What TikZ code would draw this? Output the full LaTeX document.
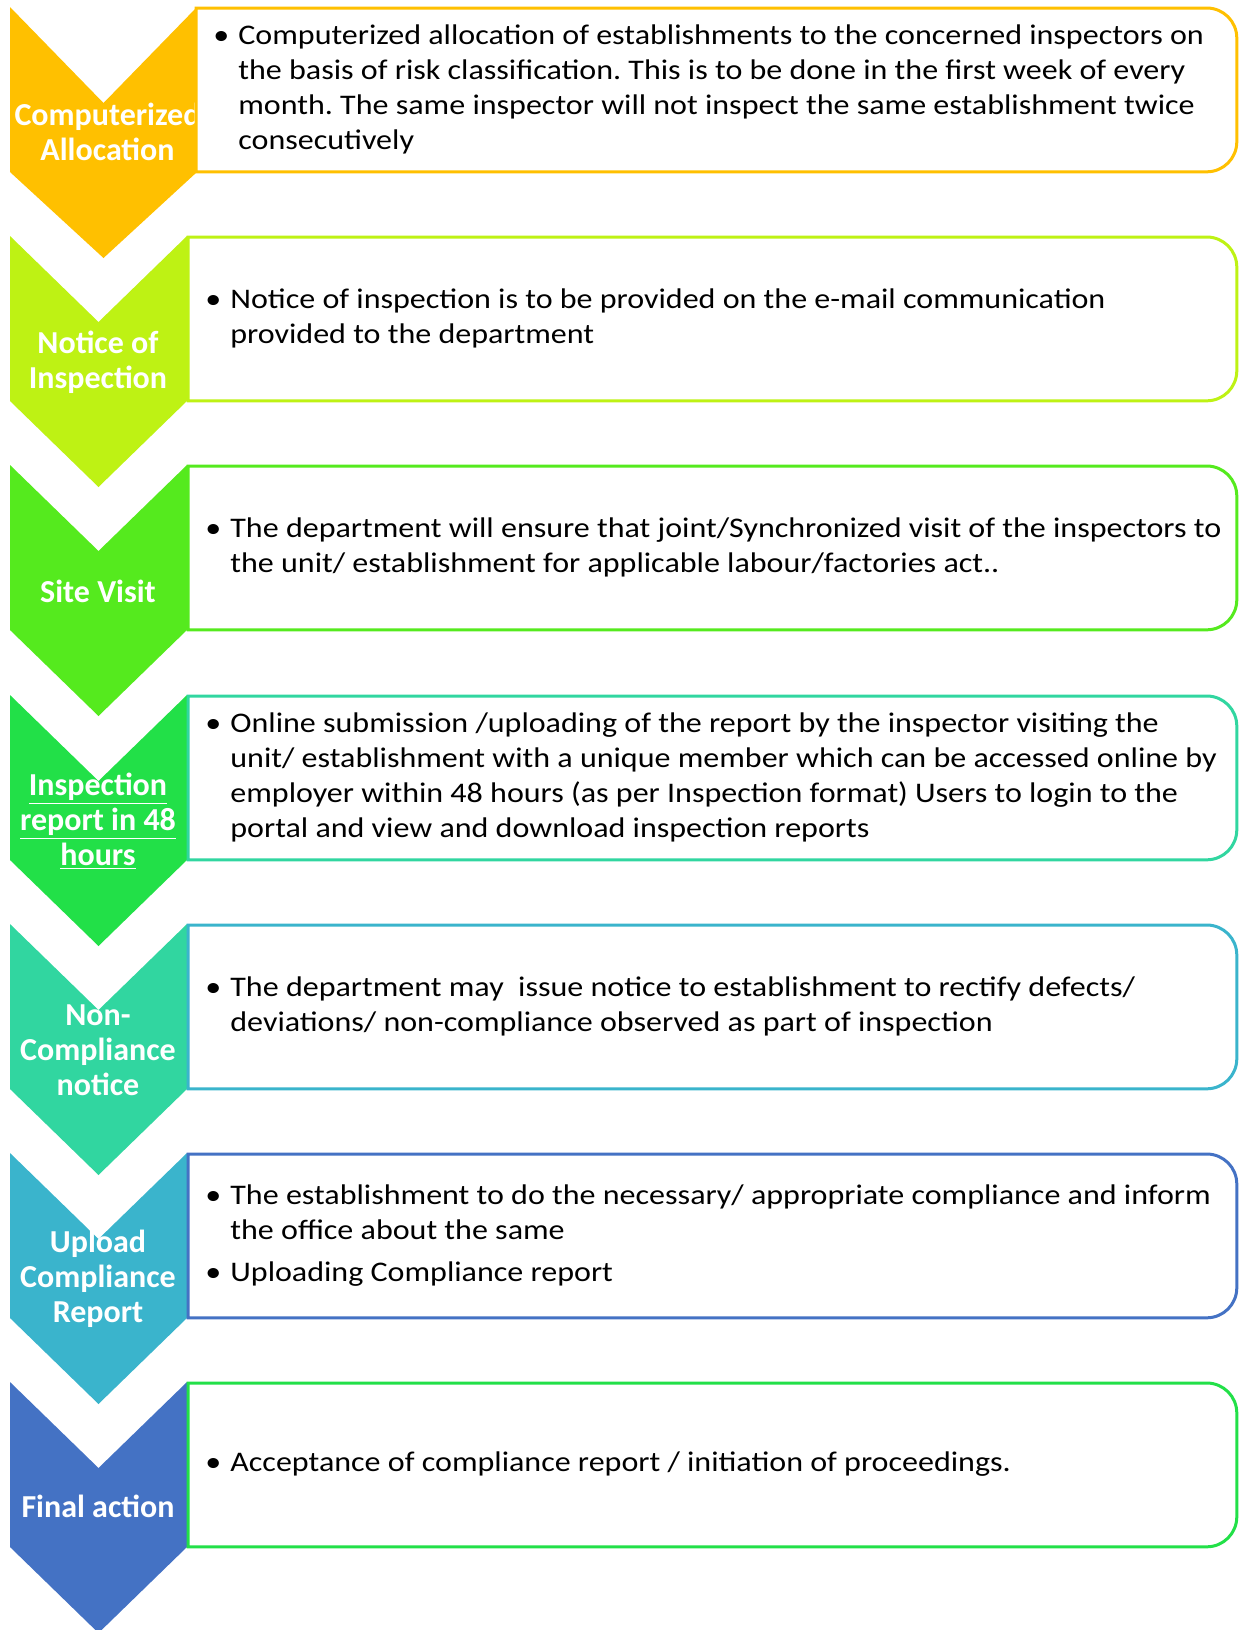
\documentclass[tikz,border=0pt]{standalone}
\usepackage{fontspec}
\setmainfont{Carlito}[FakeStretch=1.128]
\newfontfamily\labfont{Carlito}
\usetikzlibrary{positioning}
\frenchspacing

\definecolor{stepA}{HTML}{FFC000}
\definecolor{stepB}{HTML}{BEF214}
\definecolor{stepC}{HTML}{55EA1E}
\definecolor{stepD}{HTML}{22E048}
\definecolor{stepE}{HTML}{31D6A0}
\definecolor{stepF}{HTML}{3AB4CC}
\definecolor{stepG}{HTML}{4472C4}

% chevron: top, width, notch depth, colour
\newcommand{\chevshape}[4]{%
  \fill[#4] (10,#1) -- ++(#2/2,#3) -- (10+#2,#1) -- ++(0,165)
    -- ++(-#2/2,86) -- (10,#1+165) -- cycle;}
% outline of a box, square on the left, round on the right
\newcommand{\boxline}[2]{%
  \draw[line width=1.5pt, draw=#2, fill=white] (#1.south west) -- (#1.north west)
    -- ([xshift=-15pt]#1.north east) arc[start angle=90, end angle=0, radius=15pt]
    -- ([yshift=15pt]#1.south east) arc[start angle=0, end angle=-90, radius=15pt]
    -- cycle;}
\newcommand{\bul}[1]{\makebox[12.5pt][l]{\textbullet}\begin{tabular}[t]{@{}l@{}}#1\end{tabular}}

\begin{document}
\begin{tikzpicture}[
  x=0.5pt, y=-0.5pt,
  box/.style={
    rectangle,
    anchor=north west,
    inner sep=0pt,
    minimum width=524pt,
    minimum height=81.5pt
  },
  lab/.style={
    text=white,
    align=center,
    inner sep=0pt,
    font=\labfont\bfseries\fontsize{16}{17.5}\selectfont
  },
  txt/.style={
    align=left,
    inner sep=0pt,
    font=\fontsize{14.2}{17.6}\selectfont
  }
]
\useasboundingbox (0,0) rectangle (1239,1630);

% Chevrons with their labels
\chevshape{7}{187}{96}{stepA}
\node[lab] (alloc) at (107.5,132) {Computerized\\Allocation};
\chevshape{236}{177}{86}{stepB}
\node[lab] (notice) at (98,362) {Notice of\\Inspection};
\chevshape{465}{177}{86}{stepC}
\node[lab] (visit) at (98,591) {Site Visit};
\chevshape{695}{177}{86}{stepD}
\node[lab] (report) at (98,821) {\underline{Inspection}\\\underline{report in 48}\\\underline{hours}};
\chevshape{924}{177}{86}{stepE}
\node[lab] (noncomp) at (98,1050) {Non-\\Compliance\\notice};
\chevshape{1153}{177}{86}{stepF}
\node[lab] (upload) at (98,1279) {Upload\\Compliance\\Report};
\chevshape{1382}{177}{86}{stepG}
\node[lab] (final) at (98,1506) {Final action};

% Boxes (stacked top-down)
\node[box, minimum width=520pt] (allocbox) at (196,8) {};
\node[box] (noticebox) at (188,237) {};
\node[box] (visitbox) at (188,466) {};
\node[box] (reportbox) at (188,696) {};
\node[box] (noncompbox) at (188,925) {};
\node[box] (uploadbox) at (188,1154) {};
\node[box] (finalbox) at (188,1383) {};

\boxline{allocbox}{stepA}
\boxline{noticebox}{stepB}
\boxline{visitbox}{stepC}
\boxline{reportbox}{stepE}
\boxline{noncompbox}{stepF}
\boxline{uploadbox}{stepG}
\boxline{finalbox}{stepD}

% Box texts
\node[txt, right=8.5pt of allocbox.west] (alloctxt) {\bul{Computerized allocation of establishments to the concerned inspectors on\\
the basis of risk classification. This is to be done in the first week of every\\
month. The same inspector will not inspect the same establishment twice\\
consecutively}};
\node[txt, right=8.5pt of noticebox.west] (noticetxt) {\bul{Notice of inspection is to be provided on the e-mail communication\\
provided to the department}};
\node[txt, right=8.5pt of visitbox.west] (visittxt) {\bul{The department will ensure that joint/Synchronized visit of the inspectors to\\
the unit/ establishment for applicable labour/factories act..}};
\node[txt, right=8.5pt of reportbox.west] (reporttxt) {\bul{Online submission /uploading of the report by the inspector visiting the\\
unit/ establishment with a unique member which can be accessed online by\\
employer within 48 hours (as per Inspection format) Users to login to the\\
portal and view and download inspection reports}};
\node[txt, right=8.5pt of noncompbox.west] (noncomptxt) {\bul{The department may\ \ issue notice to establishment to rectify defects/\\
deviations/ non-compliance observed as part of inspection}};
\node[txt, right=8.5pt of uploadbox.west] (uploadtxt) {\bul{The establishment to do the necessary/ appropriate compliance and inform\\
the office about the same}\\[2.5pt]
\bul{Uploading Compliance report}};
\node[txt, right=8.5pt of finalbox.west] (finaltxt) {\bul{Acceptance of compliance report / initiation of proceedings.}};

\end{tikzpicture}
\end{document}
